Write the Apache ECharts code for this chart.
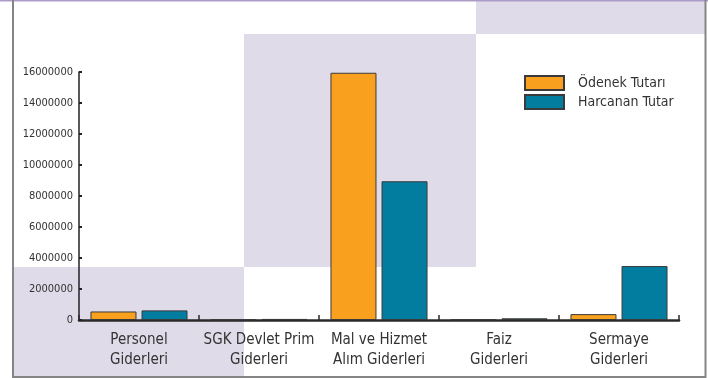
<!DOCTYPE html>
<html>
<head>
<meta charset="utf-8">
<script src="https://cdn.jsdelivr.net/npm/echarts@6/dist/echarts.min.js"></script>
<style>
  html, body { margin: 0; padding: 0; background: #fff; }
  #chart { width: 708px; height: 378px; }
</style>
</head>
<body>
<div id="chart"></div>
<script>
// Expense categories (two-line labels)
const categories = [
  'Personel\nGiderleri',
  'SGK Devlet Prim\nGiderleri',
  'Mal ve Hizmet\nAlım Giderleri',
  'Faiz\nGiderleri',
  'Sermaye\nGiderleri'
];
// Budgeted amounts
const odenekTutari = [550000, 40000, 15950000, 40000, 380000];
// Spent amounts
const harcananTutar = [620000, 70000, 8950000, 110000, 3480000];
// Y-axis scale
const yMin = 0;
const yMax = 16000000;
const yStep = 2000000;

const FONT = '"DejaVu Sans Condensed", "Liberation Sans Narrow", "Liberation Sans", sans-serif';
const ORANGE = '#F9A11E';
const TEAL = '#027D9F';
const LAVENDER = '#DFDBE9';

const chart = echarts.init(document.getElementById('chart'), null, { renderer: 'canvas' });

chart.setOption({
  backgroundColor: '#ffffff',
  animation: false,
  textStyle: { fontFamily: FONT },
  graphic: [
    // decorative background panels
    { type: 'rect', z: -10, silent: true, shape: { x: 14, y: 267, width: 230, height: 111 }, style: { fill: LAVENDER } },
    { type: 'rect', z: -10, silent: true, shape: { x: 244, y: 34, width: 232, height: 233 }, style: { fill: LAVENDER } },
    { type: 'rect', z: -10, silent: true, shape: { x: 476, y: 0, width: 230, height: 34 }, style: { fill: LAVENDER } },
    // frame
    { type: 'line', z: -5, silent: true, shape: { x1: 0, y1: 0.5, x2: 708, y2: 0.5 }, style: { stroke: '#AB9DC8', lineWidth: 2 } },
    { type: 'line', z: -5, silent: true, shape: { x1: 13, y1: 0, x2: 13, y2: 378 }, style: { stroke: '#858585', lineWidth: 2 } },
    { type: 'line', z: -5, silent: true, shape: { x1: 13, y1: 377, x2: 706, y2: 377 }, style: { stroke: '#858585', lineWidth: 2 } },
    { type: 'line', z: -5, silent: true, shape: { x1: 705.5, y1: 0, x2: 705.5, y2: 378 }, style: { stroke: '#858585', lineWidth: 2 } }
  ],
  legend: {
    orient: 'vertical',
    left: 524,
    top: 75,
    itemWidth: 39,
    itemHeight: 14,
    itemGap: 3,
    icon: 'rect',
    padding: 0,
    textStyle: { fontFamily: FONT, fontSize: 14, color: '#333', lineHeight: 14, padding: [0, 0, 0, 9] },
    data: ['Ödenek Tutarı', 'Harcanan Tutar']
  },
  grid: { left: 79, right: 29, top: 72, bottom: 58, containLabel: false },
  xAxis: {
    type: 'category',
    data: categories,
    axisLine: { lineStyle: { color: '#2a2a2a', width: 2.5 } },
    axisTick: { show: true, inside: true, length: 5, alignWithLabel: false, lineStyle: { color: '#2a2a2a', width: 1.5 } },
    axisLabel: { interval: 0, margin: 10, fontFamily: FONT, fontSize: 15, lineHeight: 20, color: '#333' },
    splitLine: { show: false }
  },
  yAxis: {
    type: 'value',
    min: yMin,
    max: yMax,
    interval: yStep,
    axisLine: { show: true, lineStyle: { color: '#222', width: 1.5 } },
    axisTick: { show: true, inside: true, length: 3, lineStyle: { color: '#222', width: 2 } },
    axisLabel: { margin: 6, fontFamily: FONT, fontSize: 11, color: '#333', formatter: (v) => String(v) },
    splitLine: { show: false }
  },
  series: [
    {
      name: 'Ödenek Tutarı',
      type: 'bar',
      data: odenekTutari,
      barWidth: 46,
      barGap: '11%',
      itemStyle: { color: ORANGE, borderColor: '#3a3a3a', borderWidth: 1 }
    },
    {
      name: 'Harcanan Tutar',
      type: 'bar',
      data: harcananTutar,
      barWidth: 46,
      barGap: '11%',
      itemStyle: { color: TEAL, borderColor: '#3a3a3a', borderWidth: 1 }
    }
  ]
});
</script>
</body>
</html>
